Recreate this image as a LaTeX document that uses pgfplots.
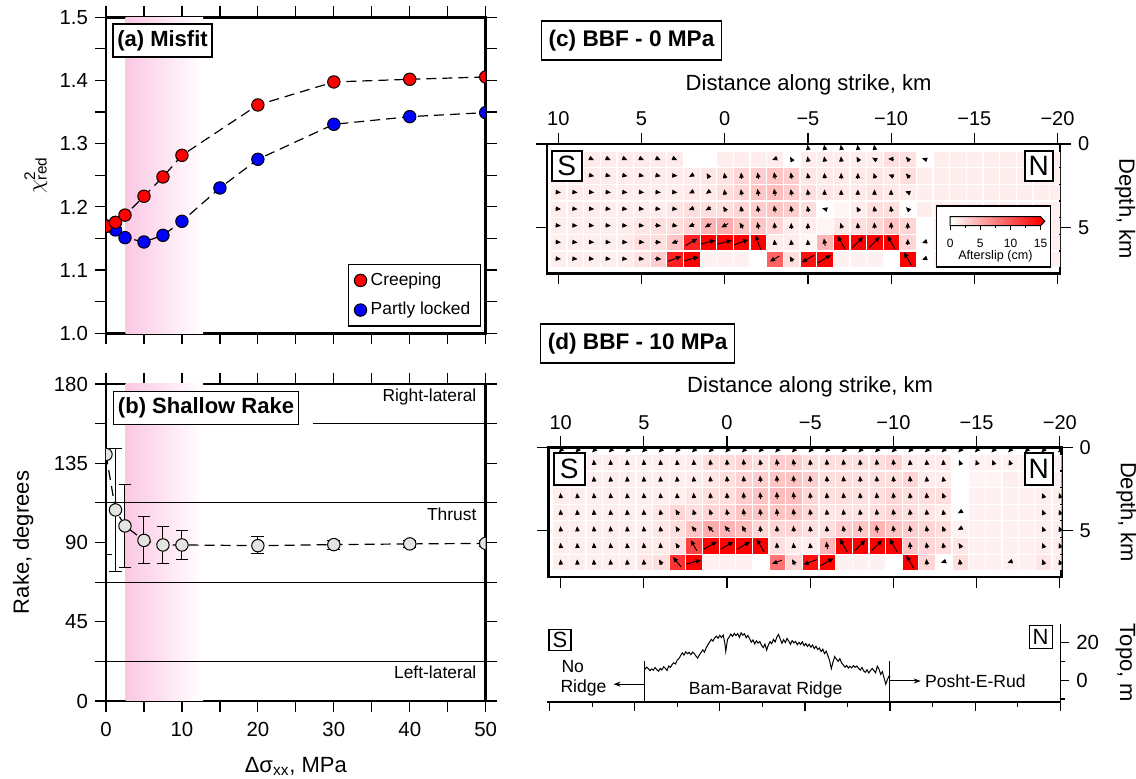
\documentclass[border=0pt]{standalone}
\usepackage{pgfplots}
\pgfplotsset{compat=1.18}
\usepackage{pgfplotstable}
\usepackage{fontspec}
\setmainfont{Liberation Sans}
\usetikzlibrary{arrows.meta}
\definecolor{pinkA}{RGB}{251,200,228}
\definecolor{mgray}{RGB}{228,228,224}
\newcommand{\fs}[1]{\fontsize{#1}{#1}\selectfont}

\pgfplotsset{
  gmt/.style={scale only axis, axis line style={line width=1.4pt},
    tick style={black, line width=0.6pt}, tick align=outside,
    major tick length=5.5pt, minor tick length=5.5pt, tick pos=both,
    /pgf/number format/assume math mode=true,
    ticklabel style={font=\fs{10.2}}, label style={font=\fs{11}}},
  slipmap/.style={colormap={slip}{rgb255(0cm)=(255,255,255); rgb255(0.5cm)=(255,238,238); rgb255(15cm)=(255,0,0)},
    point meta min=0, point meta max=15, clip marker paths=true},
}
\tikzset{
  tbox/.style={draw, fill=white, line width=0.8pt, font=\bfseries\fs{11},
    inner xsep=2.2pt, inner ysep=0pt, minimum height=16.5pt},
  lbox/.style={draw, fill=white, line width=0.9pt, inner sep=0pt},
}

% afterslip, BBF 0 MPa: depth row d, cell values c0..c31 (x = 11 - k km), rake angles a0..a31 (999 = no arrow)
\pgfplotstableread{
d c0 c1 c2 c3 c4 c5 c6 c7 c8 c9 c10 c11 c12 c13 c14 c15 c16 c17 c18 c19 c20 c21 c22 c23 c24 c25 c26 c27 c28 c29 c30 c31 a0 a1 a2 a3 a4 a5 a6 a7 a8 a9 a10 a11 a12 a13 a14 a15 a16 a17 a18 a19 a20 a21 a22 a23 a24 a25 a26 a27 a28 a29 a30 a31
-0.1 0.4 0.4 0.4 0.4 0.4 0.4 0.4 0.4 0.4 0 0 0.4 0.4 0.4 0.4 0.4 0.4 0.4 0.4 0.4 0.4 0.4 0.4 0.4 0.4 0.4 0.4 0.4 0.4 0.4 0.4 0.4 999 999 999 999 999 999 999 999 999 999 999 999 999 999 999 999 100 100 100 100 100 999 999 999 999 999 999 999 999 999 999 999
0.9 0.3 0.5 0.5 0.7 0.7 0.7 0.7 0.7 0.7 0 0 0.5 0.6 0.6 0.6 0 0.6 0.6 0.6 0.6 0.6 1.5 1.2 0 0.5 0.5 0.5 0.5 0.5 0.5 0.5 0.5 999 999 999 -25 -25 -25 -25 -25 -25 999 999 999 999 999 200 120 100 100 95 120 150 180 130 160 999 999 999 999 999 999 999 999
1.9 0.4 0.5 0.5 0.7 0.7 0.7 0.7 0.7 0.7 0.7 1.0 1.2 2 2.5 3 2.5 1 0.8 0.8 0.8 1 0.8 1.5 0.5 0.5 0.5 0.5 0.5 0.5 0.5 0.5 0.5 999 999 999 -12 -12 -12 -12 -12 -5 210 120 100 95 100 100 100 100 95 90 90 110 160 130 999 999 999 999 999 999 999 999 999
2.9 0.4 0.6 0.6 0.6 0.6 0.6 0.6 0.6 0.6 0.8 0.8 1.5 2 3 3.5 2.5 1.5 1 0.8 0.8 1.2 0.8 0.6 0.5 0.5 0.5 0.5 0.5 0.5 0.5 0.5 0.5 999 -5 -5 -5 -5 -5 -5 -5 -5 205 215 100 100 100 100 100 100 90 90 90 90 90 160 999 999 999 999 999 999 999 999 999
3.9 0.4 0.6 0.6 0.6 0.6 0.6 0.6 0.6 1 1.5 1.5 1.5 2 2.5 3 2.5 1.5 0 0.3 0.6 1.5 1.5 0 0.5 0.5 0.5 0.5 0.5 0.5 0.5 0.5 0.5 999 -5 -5 -5 -5 -5 -5 -5 -5 200 210 120 100 100 100 100 100 165 999 120 100 100 135 999 999 999 999 999 999 999 999 999
4.9 0.4 0.5 0.5 0.5 0.5 0.6 1 1.5 1.5 2 4 4.5 3 3 2 0.6 0.6 0.3 1 1.5 2 3 2 0 0.5 0.5 0.5 0.5 0.5 0.5 0.5 0.5 999 -5 -5 -5 -5 -5 -5 -5 -10 200 210 210 120 100 95 90 90 999 110 95 95 90 90 999 999 999 999 999 999 999 999 999
5.9 0.4 0.5 0.5 0.5 0.5 0.7 1.5 1.5 3 13 15 15 15 15 0.6 0.6 0.3 4 15 15 15 15 2 0 0.5 0.5 0.5 0.5 0.5 0.5 0.5 0.5 999 -5 -5 -5 -5 -5 -5 0 200 30 15 15 20 110 95 95 95 100 120 45 45 120 90 200 999 999 999 999 999 999 999 999
6.9 0.4 0.5 0.5 0.5 0.5 0.7 1.2 2.5 13 15 0.4 0.4 0.4 0 9 1.5 14 15 0.4 0.4 0.4 0 15 0 0.5 0.5 0.5 0.5 0.5 0.5 0.5 0.5 999 -5 -5 -5 -5 -5 -5 -5 20 15 999 999 999 999 210 120 210 30 999 999 999 999 120 200 999 999 999 999 999 999 999 999
7.9 0.4 0.5 0.5 0.5 0.5 0.5 1 3 14 0.4 0.4 0.4 0.4 0.4 0.4 10 0.4 0.4 0.4 0.4 0.4 0.4 0.4 0.4 0.4 0.4 0.4 0.4 0.4 0.4 0.4 0.4 999 999 999 999 999 999 999 999 999 999 999 999 999 999 999 999 999 999 999 999 999 999 999 999 999 999 999 999 999 999 999 999
}\slipC

% afterslip, BBF 10 MPa
\pgfplotstableread{
d c0 c1 c2 c3 c4 c5 c6 c7 c8 c9 c10 c11 c12 c13 c14 c15 c16 c17 c18 c19 c20 c21 c22 c23 c24 c25 c26 c27 c28 c29 c30 c31 a0 a1 a2 a3 a4 a5 a6 a7 a8 a9 a10 a11 a12 a13 a14 a15 a16 a17 a18 a19 a20 a21 a22 a23 a24 a25 a26 a27 a28 a29 a30 a31
-0.1 0.4 0.4 0.4 0.4 0.4 0.4 0.4 0.4 0.4 0.4 0.4 0.4 0.4 0.4 0.4 0.4 0.4 0.4 0.4 0.4 0.4 0.4 0.4 0.4 0.4 0.4 0.4 0.4 0.4 0.4 0.4 0.4 999 225 225 225 225 225 225 225 225 225 225 225 225 225 225 225 225 225 225 225 225 225 225 225 225 225 225 225 225 225 225 225
0.9 0.3 0.5 0.5 0.5 0.5 0.5 0.5 0.5 0.5 0.6 1.5 1.5 2 1.5 2.5 2.5 1.5 1.5 1.5 1.5 1.5 2 0.7 0.7 0.7 0 0.4 0.4 0.4 0.4 0.4 0.4 999 999 999 95 95 95 95 95 95 95 95 95 95 100 100 100 95 95 95 95 95 95 95 95 95 110 110 110 110 999 999 999
1.9 0.3 0.5 0.5 0.5 0.5 0.5 0.5 0.5 0.5 0.6 1 1.5 2 2.5 3 3 2.5 1.5 1.5 1.5 1.5 1.5 2 0.6 0.6 0 0.3 0.3 0.5 0.4 0.4 0.4 999 999 999 95 95 95 95 95 95 95 95 95 95 95 95 95 95 95 95 95 95 95 95 95 100 999 999 999 999 999 999 999
2.9 0.4 0.5 0.5 0.5 0.5 0.5 0.5 0.5 0.5 1 1.5 1.5 2.5 3 3.5 3.5 2 1.5 1.5 1.5 1.5 2 1.5 1.5 1.5 0 0.4 0.4 0.4 0.4 0.5 0.5 999 95 95 95 95 95 95 95 95 95 95 95 95 95 95 95 95 95 95 95 95 95 95 95 110 999 999 999 999 999 110 110
3.9 0.4 0.5 0.5 0.5 0.5 0.5 0.5 1 2 1.5 2 2 3 3 3 3 2 1 1.2 1.2 1.5 2 1.5 1 0.6 0 0.4 0.4 0.4 0.4 0.5 0.5 999 95 95 95 95 95 95 100 120 110 105 100 97 97 97 97 97 97 97 97 97 97 97 97 100 210 999 999 999 999 110 110
4.9 0.4 0.5 0.5 0.5 0.5 0.5 0.5 1 1.5 3 4.5 4 3.5 2 2 2 1.5 1.5 2.5 3 4 3 2.5 2 1.5 0.4 0.4 0.4 0.4 0.4 0.5 0.5 999 95 95 95 95 95 95 100 120 130 135 130 120 95 95 95 95 95 100 100 100 100 100 100 110 210 999 999 999 999 110 110
5.9 0.4 0.5 0.5 0.5 0.5 0.5 0.8 0.8 1.5 11 15 15 15 15 1.5 0.6 0.6 4 15 15 15 15 3 2 1.5 1 0.4 0.4 0.4 0.4 0.6 0.6 999 95 95 95 95 95 95 95 120 120 30 30 30 120 95 95 95 100 120 45 45 120 95 100 100 120 999 999 999 999 110 110
6.9 0.4 0.5 0.5 0.5 0.5 0.5 1 1.5 12 15 0.4 0.4 0.4 0 8 2 14 15 0.4 0.4 0.4 0 15 2 0 1.5 0.4 0.4 0.4 0.4 1 0.6 999 95 95 95 95 95 95 120 130 15 999 999 999 999 200 120 200 30 999 999 999 999 120 95 200 95 999 999 200 999 110 110
7.9 0.4 0.5 0.5 0.5 0.5 0.5 1.5 2 14 0.4 0.4 0.4 0.4 0.4 0.4 10 0.4 0.4 0.4 0.4 0.4 0.4 0.4 3 0.4 0.4 0.4 0.4 0.4 1 0.6 0.4 999 999 999 999 999 999 999 999 999 999 999 999 999 999 999 999 999 999 999 999 999 999 999 999 999 999 999 999 999 999 999 999
}\slipD

\pgfplotstableread{
x y ep em
0 140 40 57
1.25 108.5 34.8 35.1
2.5 99.4 23.6 23.5
5 91.2 13.5 13.0
7.5 88.6 10.6 10.8
10 88.6 8.1 8.3
20 88.2 5.1 4.7
30 88.8 2.5 2.5
40 89.2 2 2
50 89.5 1.5 1.5
}\rake

\pgfplotstableread{
x y
5.60 5.8
5.70 7.0
5.80 6.2
5.90 5.1
6.00 6.0
6.10 5.4
6.20 6.8
6.30 5.6
6.40 4.8
6.50 6.3
6.60 5.5
6.70 7.2
6.80 6.4
6.90 5.2
7.00 7.6
7.10 6.9
7.20 8.4
7.30 9.3
7.40 8.7
7.50 10.8
7.60 11.5
7.70 13.2
7.80 14.6
7.90 13.4
8.00 15.2
8.10 14.1
8.20 14.9
8.30 13.6
8.40 15.0
8.50 14.2
8.60 12.9
8.70 11.8
8.80 13.5
8.90 14.8
9.00 16.2
9.10 15.0
9.20 17.3
9.30 18.9
9.40 20.4
9.50 21.8
9.60 20.9
9.70 22.6
9.80 23.5
9.90 22.4
10.00 23.9
10.10 22.8
10.20 24.1
10.30 19.6
10.35 15.4
10.45 21.7
10.55 23.0
10.65 24.6
10.75 23.4
10.85 25.0
10.95 23.8
11.05 24.9
11.15 22.9
11.25 25.3
11.35 24.0
11.45 24.8
11.55 22.6
11.65 23.9
11.75 22.1
11.85 20.3
11.95 21.5
12.05 19.4
12.15 21.0
12.25 19.8
12.35 20.7
12.45 18.6
12.55 17.4
12.65 19.3
12.75 16.1
12.85 18.8
12.95 20.6
13.05 19.5
13.15 21.8
13.25 20.4
13.35 23.0
13.45 24.4
13.55 22.0
13.65 19.7
13.75 21.6
13.85 20.1
13.95 22.3
14.05 20.8
14.15 19.2
14.25 21.1
14.35 19.9
14.45 20.7
14.55 18.9
14.65 20.2
14.75 19.1
14.85 20.5
14.95 18.4
15.05 19.6
15.15 18.0
15.25 19.2
15.35 17.6
15.45 18.8
15.55 16.9
15.65 18.1
15.75 16.4
15.85 17.2
15.95 15.3
16.05 16.6
16.15 14.2
16.25 15.5
16.35 13.1
16.45 10.4
16.55 6.2
16.65 9.8
16.75 12.6
16.85 11.2
16.95 10.1
17.05 11.5
17.15 9.3
17.25 8.2
17.35 7.0
17.45 7.9
17.55 6.5
17.65 7.4
17.75 6.6
17.85 7.8
17.95 6.9
18.05 7.6
18.15 6.3
18.25 5.4
18.35 6.8
18.45 5.0
18.55 4.2
18.65 5.6
18.75 3.9
18.85 5.1
18.95 6.3
19.05 5.2
19.15 4.0
19.25 7.5
19.35 5.9
19.45 3.1
19.55 4.6
19.65 1.2
19.75 -2.1
19.85 0.5
19.95 2.4
20.00 1.6
}\topo

\newcommand{\slipcells}[1]{%
  \pgfplotsinvokeforeach{0,...,31}{%
    \addplot[scatter, only marks, mark=square*, mark size=3.6pt,
      mark options={line width=0.1pt},
      scatter/use mapped color={draw=mapped color, fill=mapped color},
      point meta=explicit, forget plot]
      table[x expr={11-##1}, y=d, meta=c##1] {#1};
  }%
  \pgfplotsinvokeforeach{0,...,31}{%
    \addplot[black, line width=0.45pt, -{Triangle[length=2.6pt,width=2.2pt]}, forget plot,
      restrict expr to domain={\thisrow{a##1}}{-360:360},
      quiver={u={-(0.3+0.04*\thisrow{c##1})*cos(\thisrow{a##1})},
              v={-(0.3+0.04*\thisrow{c##1})*sin(\thisrow{a##1})}}]
      table[x expr={11-##1+0.5*(0.3+0.04*\thisrow{c##1})*cos(\thisrow{a##1})},
            y expr={max(\thisrow{d},0.2)+0.5*(0.3+0.04*\thisrow{c##1})*sin(\thisrow{a##1})}] {#1};
  }%
}

\begin{document}
\begin{tikzpicture}
\useasboundingbox (0,0) rectangle (568pt,-389.5pt);

% ---------------- (a) Misfit
\begin{axis}[gmt, at={(53pt,-166.65pt)}, anchor=south west, width=189.85pt, height=158pt,
  xmin=0, xmax=50, ymin=1.0, ymax=1.5,
  xtick={0,10,20,30,40,50}, minor xtick={5,15,25,35,45}, xticklabels={},
  ytick={1.0,1.1,1.2,1.3,1.4,1.5}, minor ytick={1.05,1.15,1.25,1.35,1.45},
  yticklabel style={/pgf/number format/.cd, fixed, fixed zerofill, precision=1},
  ylabel={$\chi$\rlap{\textsuperscript{2}}\textsubscript{red}},
  ylabel style={at={(axis description cs:-0.185,0.5)}, anchor=center},
  clip marker paths=true,
  legend style={at={(0.988,0.021)}, anchor=south east, draw=black, line width=0.8pt,
    font=\fs{8.7}, inner xsep=3pt, inner ysep=2pt, row sep=3pt},
  legend cell align=left,
  legend image code/.code={\draw[#1] plot coordinates {(0pt,0pt)};}]
  \fill[left color=pinkA, right color=white] (axis cs:2.6,1.0) rectangle (axis cs:12.8,1.5);
  \addplot[black, dash pattern=on 5pt off 3pt, line width=0.6pt, mark=*, mark size=3.1pt,
    mark options={solid, fill=blue, draw=black, line width=0.5pt}, forget plot]
    coordinates {(0,1.170) (1.25,1.1635) (2.5,1.1514) (5,1.1445) (7.5,1.155) (10,1.1772) (15,1.230) (20,1.2753) (30,1.3307) (40,1.3428) (50,1.3492)};
  \addplot[black, dash pattern=on 5pt off 3pt, line width=0.6pt, mark=*, mark size=3.1pt,
    mark options={solid, fill=red, draw=black, line width=0.5pt}, forget plot]
    coordinates {(0,1.169) (1.25,1.1756) (2.5,1.187) (5,1.2168) (7.5,1.2474) (10,1.2816) (20,1.3613) (30,1.3977) (40,1.4019) (50,1.4056)};
  \addlegendimage{only marks, mark=*, mark size=3.1pt, mark options={fill=red, draw=black, line width=0.5pt}}
  \addlegendentry{Creeping}
  \addlegendimage{only marks, mark=*, mark size=3.1pt, mark options={fill=blue, draw=black, line width=0.5pt}}
  \addlegendentry{Partly locked}
\end{axis}

% ---------------- (b) Shallow rake
\begin{axis}[gmt, at={(53pt,-350.5pt)}, anchor=south west, width=189.85pt, height=158.5pt,
  xmin=0, xmax=50, ymin=0, ymax=180,
  xtick={0,10,20,30,40,50}, minor xtick={5,15,25,35,45},
  ytick={0,45,90,135,180}, minor ytick={22.5,67.5,112.5,157.5},
  xlabel={Δσ\textsubscript{xx}, MPa}, ylabel={Rake, degrees},
  xlabel style={at={(axis description cs:0.5,-0.207)}, anchor=center},
  ylabel style={at={(axis description cs:-0.218,0.5)}, anchor=center},
  xticklabel style={yshift=-1.5pt},
  clip marker paths=true]
  \fill[left color=pinkA, right color=white] (axis cs:2.6,0) rectangle (axis cs:12.8,180);
  \addplot[black, line width=0.6pt, forget plot] coordinates {(27.3,157.5) (50,157.5)};
  \addplot[black, line width=0.6pt, forget plot] coordinates {(0,112.5) (50,112.5)};
  \addplot[black, line width=0.6pt, forget plot] coordinates {(0,67.5) (50,67.5)};
  \addplot[black, line width=0.6pt, forget plot] coordinates {(0,22.5) (50,22.5)};
  \node[anchor=east, font=\fs{8.7}] at (axis cs:49.7,172.4) {Right-lateral};
  \node[anchor=east, font=\fs{8.7}] at (axis cs:49.7,106.2) {Thrust};
  \node[anchor=east, font=\fs{8.7}] at (axis cs:49.7,16.3) {Left-lateral};
  \addplot[black, dash pattern=on 5pt off 3pt, line width=0.6pt, mark=*, mark size=3.1pt,
    mark options={solid, fill=mgray, draw=black, line width=0.5pt},
    error bars/.cd, y dir=both, y explicit,
    error bar style={solid, line width=0.5pt, black},
    error mark options={rotate=90, solid, mark size=3.2pt, line width=0.5pt, black}]
    table[x=x, y=y, y error plus=ep, y error minus=em] {\rake};
\end{axis}

% ---------------- (c) BBF 0 MPa
\begin{axis}[gmt, slipmap, at={(273.5pt,-136.75pt)}, anchor=south west, width=256.5pt, height=64.75pt,
  x dir=reverse, y dir=reverse, xmin=-20.15, xmax=10.68, ymin=0, ymax=7.78,
  xtick={10,5,0,-5,-10,-15,-20}, xticklabels={10,5,0,−5,−10,−15,−20},
  ytick={0,5}, xticklabel pos=right, yticklabel pos=right,
  ticklabel style={font=\fs{10}},
  xlabel={Distance along strike, km}, ylabel={Depth, km},
  xlabel style={at={(axis description cs:0.51,1.456)}, anchor=center},
  ylabel style={at={(axis description cs:1.127,0.5)}, anchor=center, rotate=180}]
  \slipcells{\slipC}
\end{axis}

% ---------------- (d) BBF 10 MPa
\begin{axis}[gmt, slipmap, at={(274.25pt,-288.5pt)}, anchor=south west, width=256.5pt, height=64.85pt,
  x dir=reverse, y dir=reverse, xmin=-20.1, xmax=10.73, ymin=0, ymax=7.8,
  xtick={10,5,0,-5,-10,-15,-20}, xticklabels={10,5,0,−5,−10,−15,−20},
  ytick={0,5}, xticklabel pos=right, yticklabel pos=right,
  ticklabel style={font=\fs{10}},
  xlabel={Distance along strike, km}, ylabel={Depth, km},
  xlabel style={at={(axis description cs:0.51,1.47)}, anchor=center},
  ylabel style={at={(axis description cs:1.127,0.5)}, anchor=center, rotate=180}]
  \slipcells{\slipD}
\end{axis}

% ---------------- topography
\begin{axis}[at={(273.5pt,-351pt)}, anchor=south west, scale only axis, width=256.65pt, height=39pt,
  xmin=-0.15, xmax=30, ymin=-11.6, ymax=30,
  axis x line*=bottom, axis y line*=right,
  x axis line style={line width=1.4pt}, y axis line style={line width=0.7pt},
  xtick={0,5,10,15,20,25,30}, minor xtick={2.5,7.5,12.5,17.5,22.5,27.5}, xticklabels={},
  ytick={0,20}, minor ytick={-10,10},
  tick align=outside, tick style={black, line width=0.6pt},
  major tick length=4.5pt, minor tick length=2.5pt,
  /pgf/number format/assume math mode=true,
  ticklabel style={font=\fs{10.2}}, label style={font=\fs{11}},
  ylabel={Topo, m},
  ylabel style={at={(axis description cs:1.127,0.5)}, anchor=center, rotate=180},
  clip=false]
  \addplot[black, line width=0.5pt] table[x=x, y=y] {\topo};
  \draw[line width=0.5pt] (axis cs:5.56,-11.6) -- (axis cs:5.56,10);
  \draw[line width=0.5pt] (axis cs:19.95,-11.6) -- (axis cs:19.95,10);
  \draw[line width=0.5pt, -{Stealth[length=3.5pt,width=2.5pt]}] (axis cs:5.56,-2.1) -- (axis cs:3.76,-2.1);
  \draw[line width=0.5pt, -{Stealth[length=3.5pt,width=2.5pt]}] (axis cs:19.95,-0.4) -- (axis cs:21.8,-0.4);
  \node[anchor=west, font=\fs{8.8}, inner sep=0pt] at (axis cs:0.68,7.5) {No};
  \node[anchor=west, font=\fs{8.8}, inner sep=0pt] at (axis cs:0.62,-4.2) {Ridge};
  \node[font=\fs{8.8}, inner sep=0pt] at (axis cs:12.69,-5.1) {Bam-Baravat Ridge};
  \node[anchor=west, font=\fs{8.8}, inner sep=0pt] at (axis cs:22.03,-0.4) {Posht-E-Rud};
\end{axis}

% ---------------- panel titles and labels
\node[tbox] at (81.25pt,-20.35pt) {(a) Misfit};
\node[tbox] at (103pt,-203.95pt) {(b) Shallow Rake};
\node[tbox, font=\bfseries\fs{11.3}, minimum height=19.5pt, inner xsep=3.6pt] at (315.75pt,-20.15pt) {(c) BBF - 0 MPa};
\node[tbox, font=\bfseries\fs{11.3}, minimum height=19.5pt, inner xsep=3.6pt] at (318.8pt,-171.75pt) {(d) BBF - 10 MPa};

\node[lbox, minimum width=15pt, minimum height=15pt, font=\fs{14}] at (283.35pt,-83.15pt) {S};
\node[lbox, minimum width=14pt, minimum height=15pt, font=\fs{14}] at (519.35pt,-83.1pt) {N};
\node[lbox, minimum width=15.5pt, minimum height=16pt, font=\fs{14}] at (284.6pt,-234.6pt) {S};
\node[lbox, minimum width=14pt, minimum height=16pt, font=\fs{14}] at (519.35pt,-234.45pt) {N};
\node[lbox, line width=0.6pt, minimum width=11pt, minimum height=10.5pt, font=\fs{11}] at (280pt,-320pt) {S};
\node[lbox, line width=0.6pt, minimum width=11.5pt, minimum height=11.5pt, font=\fs{11}] at (520.3pt,-318.35pt) {N};

% colour scale of panel (c)
\filldraw[fill=white, line width=0.9pt] (468.25pt,-103pt) rectangle (525.2pt,-133.35pt);
\shade[left color=white, right color=red] (475.1pt,-108.35pt) rectangle (520.3pt,-112.85pt);
\fill[red] (520.3pt,-108.35pt) -- (522.4pt,-110.6pt) -- (520.3pt,-112.85pt) -- cycle;
\draw[line width=0.5pt] (475.1pt,-108.35pt) -- (520.3pt,-108.35pt) -- (522.4pt,-110.6pt) -- (520.3pt,-112.85pt) -- (475.1pt,-112.85pt) -- cycle;
\foreach \t in {475.1,490.15,505.25,520.3} \draw[line width=0.4pt] (\t pt,-112.85pt) -- (\t pt,-114.8pt);
\foreach \t in {482.65,497.7,512.75} \draw[line width=0.4pt] (\t pt,-112.85pt) -- (\t pt,-113.9pt);
\node[font=\fs{6}] at (475.1pt,-121.65pt) {0};
\node[font=\fs{6}] at (490.15pt,-121.65pt) {5};
\node[font=\fs{6}] at (505.25pt,-121.65pt) {10};
\node[font=\fs{6}] at (520.3pt,-121.65pt) {15};
\node[font=\fs{6.3}] at (497.7pt,-128.35pt) {Afterslip (cm)};
\end{tikzpicture}
\end{document}
